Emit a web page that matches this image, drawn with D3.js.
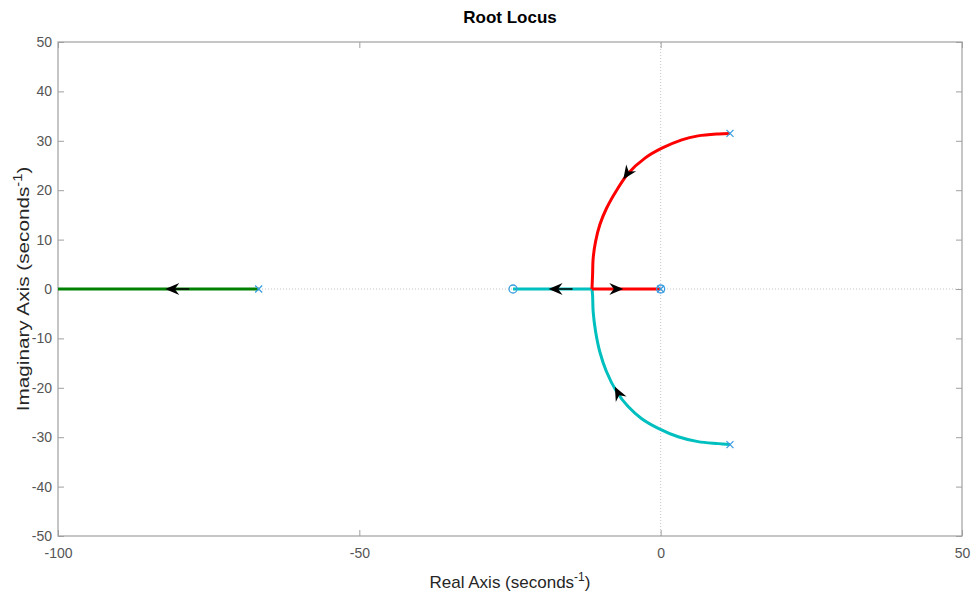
<!DOCTYPE html>
<html><head><meta charset="utf-8">
<script src="https://cdn.jsdelivr.net/npm/d3@7"></script>
<style>body{margin:0;background:#fff}</style>
</head><body>
<script>
// ---- data ----
const xTicks = [-100, -50, 0, 50];
const yTicks = [-50, -40, -30, -20, -10, 0, 10, 20, 30, 40, 50];
const poles = [[-66.7, 0], [11.5, 31.5], [11.5, -31.5], [0, 0]];
const zeros = [[0, 0], [-24.5, 0]];
const greenBranch = [[-66.7, 0], [-100, 0]];
const redCurve = [[11.5, 31.5], [9.6, 31.4], [6.2, 31.0], [3.5, 30.2], [0.2, 28.5], [-2.6, 26.5], [-5.4, 23.4], [-7.3, 20.0], [-9.0, 16.3], [-10.1, 13.0], [-10.8, 9.6], [-11.2, 6.2], [-11.3, 2.8], [-11.4, 0]];
const redAxis = [[-11.4, 0], [0, 0]];
const cyanCurve = [[11.5, -31.5], [9.6, -31.3], [6.2, -30.9], [2.9, -29.9], [-0.4, -28.2], [-3.2, -26.2], [-5.4, -23.8], [-7.3, -20.8], [-9.0, -16.7], [-10.1, -12.7], [-10.8, -8.6], [-11.2, -4.6], [-11.3, -1.2], [-11.4, 0]];
const cyanAxis = [[-11.4, 0], [-24.5, 0]];
const arrowsAt = [["green", -82.2, 0], ["red", -6.2, 22.2], ["redAxis", -6.2, 0], ["cyan", -7.6, -19.8], ["cyanAxis", -18.6, 0]];

const W = 975, H = 600;
const m = {l: 58, r: 13, t: 42, b: 64};
const svg = d3.select("body").append("svg").attr("width", W).attr("height", H)
  .style("font-family", "'Liberation Sans', Arial, sans-serif");
const x = d3.scaleLinear().domain([-100, 50]).range([m.l, W - m.r]);
const y = d3.scaleLinear().domain([-50, 50]).range([H - m.b, m.t]);

const axisCol = "#a0a0a0", labCol = "#555555";

// zero lines (dotted)
svg.append("line").attr("x1", x(-100)).attr("x2", x(50)).attr("y1", y(0)).attr("y2", y(0))
  .attr("stroke", "#c4c4c4").attr("stroke-width", 1).attr("stroke-dasharray", "1,2");
svg.append("line").attr("x1", x(0)).attr("x2", x(0)).attr("y1", y(-50)).attr("y2", y(50))
  .attr("stroke", "#c4c4c4").attr("stroke-width", 1).attr("stroke-dasharray", "1,2");

// axes with inward ticks
const fmt = d => String(d);
function styleAxis(g) {
  g.select(".domain").remove();
  g.selectAll(".tick line").attr("stroke", axisCol);
  g.selectAll(".tick text").attr("fill", labCol).style("font-size", "14px");
}
svg.append("g").attr("transform", `translate(0,${y(-50)})`)
  .call(d3.axisBottom(x).tickValues(xTicks).tickFormat(fmt).tickSizeInner(-6).tickSizeOuter(0).tickPadding(12))
  .call(styleAxis);
svg.append("g").attr("transform", `translate(0,${y(50)})`)
  .call(d3.axisTop(x).tickValues(xTicks).tickSizeInner(-6).tickSizeOuter(0).tickFormat(""))
  .call(styleAxis);
svg.append("g").attr("transform", `translate(${x(-100)},0)`)
  .call(d3.axisLeft(y).tickValues(yTicks).tickFormat(fmt).tickSizeInner(-6).tickSizeOuter(0).tickPadding(6))
  .call(styleAxis);
svg.append("g").attr("transform", `translate(${x(50)},0)`)
  .call(d3.axisRight(y).tickValues(yTicks).tickSizeInner(-6).tickSizeOuter(0).tickFormat(""))
  .call(styleAxis);
// frame
svg.append("rect").attr("x", x(-100)).attr("y", y(50)).attr("width", x(50) - x(-100)).attr("height", y(-50) - y(50))
  .attr("fill", "none").attr("stroke", axisCol).attr("stroke-width", 1.2);

// branches
const curve = d3.line().x(d => x(d[0])).y(d => y(d[1])).curve(d3.curveCatmullRom.alpha(0.5));
const branches = {
  green: [greenBranch, "#008000"], cyanAxis: [cyanAxis, "#00bfbf"], cyan: [cyanCurve, "#00bfbf"],
  redAxis: [redAxis, "#ff0000"], red: [redCurve, "#ff0000"]
};
for (const k of ["green", "cyanAxis", "cyan", "redAxis", "red"]) {
  svg.append("path").attr("d", curve(branches[k][0])).attr("fill", "none")
    .attr("stroke", branches[k][1]).attr("stroke-width", 3).attr("stroke-linejoin", "round");
}

// arrows
function dirAt(pts, px, py) {
  let best = null, bd = Infinity;
  for (let i = 0; i < pts.length - 1; i++) {
    const a = [x(pts[i][0]), y(pts[i][1])], b = [x(pts[i + 1][0]), y(pts[i + 1][1])];
    const dx = b[0] - a[0], dy = b[1] - a[1];
    const L2 = dx * dx + dy * dy;
    let t = ((px - a[0]) * dx + (py - a[1]) * dy) / L2; t = Math.max(0, Math.min(1, t));
    const qx = a[0] + t * dx, qy = a[1] + t * dy;
    const d = (qx - px) ** 2 + (qy - py) ** 2;
    if (d < bd) { bd = d; best = Math.atan2(dy, dx) * 180 / Math.PI; }
  }
  return best;
}
for (const [k, ax, ay] of arrowsAt) {
  const px = x(ax), py = y(ay);
  const ang = dirAt(branches[k][0], px, py);
  const g = svg.append("g").attr("transform", `translate(${px},${py}) rotate(${ang})`);
  if (Math.abs(Math.abs(ang) - 180) < 1)
    g.append("line").attr("x1", -24).attr("x2", -6).attr("y1", 0).attr("y2", 0).attr("stroke", "#000").attr("stroke-width", 1.5);
  g.append("path").attr("d", "M0,0 L-14,-6 L-9.5,0 L-14,6 Z").attr("fill", "#000");
}

// poles and zeros
const pzCol = "#3a9de0";
svg.selectAll(".pole").data(poles).enter().append("path")
  .attr("d", d => { const cx = x(d[0]), cy = y(d[1]), s = 3.5; return `M${cx - s},${cy - s}L${cx + s},${cy + s}M${cx - s},${cy + s}L${cx + s},${cy - s}`; })
  .attr("stroke", pzCol).attr("stroke-width", 1.3).attr("fill", "none");
svg.selectAll(".zero").data(zeros).enter().append("circle")
  .attr("cx", d => x(d[0])).attr("cy", d => y(d[1])).attr("r", 4)
  .attr("stroke", pzCol).attr("stroke-width", 1.3).attr("fill", "none");

// texts
svg.append("text").attr("x", (x(-100) + x(50)) / 2).attr("y", 23).attr("text-anchor", "middle")
  .style("font-size", "17px").style("font-weight", "bold").attr("fill", "#000").text("Root Locus");
const xl = svg.append("text").attr("x", (x(-100) + x(50)) / 2).attr("y", 588).attr("text-anchor", "middle")
  .style("font-size", "17px").attr("fill", "#262626");
xl.append("tspan").text("Real Axis (seconds");
xl.append("tspan").attr("dy", -7).style("font-size", "12px").text("-1");
xl.append("tspan").attr("dy", 7).text(")");
const yl = svg.append("text").attr("transform", `translate(29,${(y(50) + y(-50)) / 2}) rotate(-90) scale(1.22,1)`).attr("text-anchor", "middle")
  .style("font-size", "17px").attr("fill", "#262626");
yl.append("tspan").text("Imaginary Axis (seconds");
yl.append("tspan").attr("dy", -7).style("font-size", "12px").text("-1");
yl.append("tspan").attr("dy", 7).text(")");
</script>
</body></html>
